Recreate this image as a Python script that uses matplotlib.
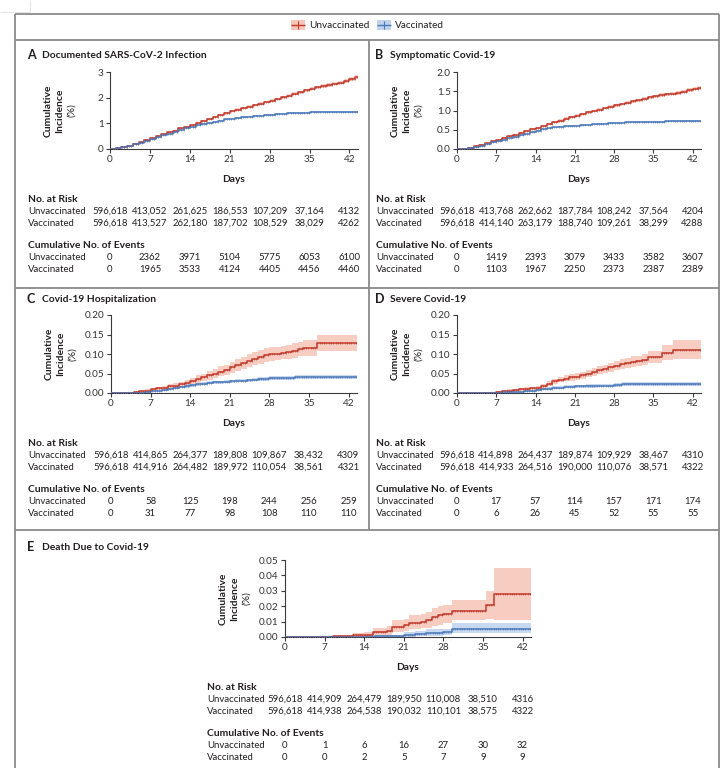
import numpy as np
import matplotlib
matplotlib.use('Agg')
import matplotlib.pyplot as plt
from matplotlib.lines import Line2D
from matplotlib.patches import Rectangle
from matplotlib.transforms import blended_transform_factory

plt.rcParams['font.family'] = ['Lato', 'DejaVu Sans']

# ---------------- data ----------------
tick_days = [0, 7, 14, 21, 28, 35, 42]
days = list(range(0, 44))

# Panel A: Documented SARS-CoV-2 infection (cumulative incidence, %)
A_unvax = [0, 0.02, 0.06, 0.13, 0.20, 0.27, 0.35, 0.43, 0.50, 0.58, 0.65, 0.72, 0.80, 0.87,
           0.95, 1.02, 1.10, 1.17, 1.25, 1.33, 1.40, 1.47, 1.53, 1.59, 1.65, 1.71, 1.77, 1.83,
           1.88, 1.95, 2.02, 2.08, 2.15, 2.21, 2.28, 2.34, 2.40, 2.46, 2.50, 2.55, 2.59, 2.66,
           2.73, 2.80]
A_vax = [0, 0.02, 0.06, 0.12, 0.18, 0.25, 0.32, 0.39, 0.46, 0.53, 0.60, 0.67, 0.73, 0.80,
         0.86, 0.92, 0.97, 1.02, 1.07, 1.11, 1.15, 1.18, 1.21, 1.24, 1.26, 1.28, 1.30, 1.32,
         1.34, 1.36, 1.38, 1.39, 1.40, 1.41, 1.42, 1.43, 1.44, 1.44, 1.44, 1.44, 1.45, 1.45,
         1.45, 1.45]
A_unvax_hw = [0, .01, .01, .015, .02, .02, .025, .025, .03, .03, .03, .035, .035, .035,
              .04, .04, .04, .04, .045, .045, .045, .045, .05, .05, .05, .05, .05, .055,
              .055, .055, .055, .06, .06, .06, .06, .06, .065, .065, .065, .065, .07, .07,
              .075, .08]
A_vax_hw = [0, .01, .01, .01, .015, .015, .02, .02, .02, .02, .025, .025, .025, .025,
            .03, .03, .03, .03, .03, .03, .03, .03, .03, .03, .03, .03, .03, .03,
            .035, .035, .035, .035, .035, .035, .035, .035, .035, .035, .035, .035, .035, .035,
            .035, .035]
A_risk_unvax = [596618, 413052, 261625, 186553, 107209, 37164, 4132]
A_risk_vax = [596618, 413527, 262180, 187702, 108529, 38029, 4262]
A_ev_unvax = [0, 2362, 3971, 5104, 5775, 6053, 6100]
A_ev_vax = [0, 1965, 3533, 4124, 4405, 4456, 4460]

# Panel B: Symptomatic Covid-19
B_unvax = [0, 0.01, 0.03, 0.07, 0.11, 0.15, 0.20, 0.24, 0.28, 0.33, 0.37, 0.42, 0.46, 0.51,
           0.55, 0.60, 0.65, 0.70, 0.74, 0.79, 0.83, 0.87, 0.91, 0.95, 0.99, 1.02, 1.06, 1.10,
           1.13, 1.17, 1.20, 1.24, 1.27, 1.31, 1.34, 1.37, 1.40, 1.42, 1.44, 1.46, 1.49, 1.53,
           1.57, 1.58]
B_vax = [0, 0.01, 0.03, 0.06, 0.09, 0.13, 0.17, 0.20, 0.24, 0.28, 0.32, 0.36, 0.40, 0.44,
         0.48, 0.51, 0.54, 0.56, 0.58, 0.59, 0.60, 0.61, 0.62, 0.63, 0.64, 0.65, 0.66, 0.67,
         0.68, 0.685, 0.69, 0.695, 0.70, 0.70, 0.705, 0.71, 0.71, 0.715, 0.72, 0.72, 0.72, 0.72,
         0.72, 0.72]
B_unvax_hw = [0, .005, .008, .01, .012, .014, .016, .018, .02, .02, .022, .022, .024, .024,
              .026, .026, .028, .028, .03, .03, .03, .032, .032, .032, .034, .034, .034, .036,
              .036, .036, .038, .038, .04, .04, .04, .042, .042, .044, .044, .046, .046, .048,
              .05, .052]
B_vax_hw = [0, .005, .006, .008, .01, .01, .012, .012, .014, .014, .015, .015, .016, .016,
            .017, .017, .018, .018, .018, .018, .019, .019, .019, .019, .02, .02, .02, .02,
            .02, .02, .021, .021, .021, .021, .021, .022, .022, .022, .022, .022, .022, .022,
            .022, .022]
B_risk_unvax = [596618, 413768, 262662, 187784, 108242, 37564, 4204]
B_risk_vax = [596618, 414140, 263179, 188740, 109261, 38299, 4288]
B_ev_unvax = [0, 1419, 2393, 3079, 3433, 3582, 3607]
B_ev_vax = [0, 1103, 1967, 2250, 2373, 2387, 2389]

# Panel C: Covid-19 hospitalization (step change points)
C_unvax_t = [0, 4, 5, 6, 7, 8, 9, 10, 11, 12, 13, 14, 15, 16, 17, 18, 19, 20, 21, 22, 23, 24,
             25, 26, 27, 28, 29, 30, 31, 32, 33, 34, 35, 36.5]
C_unvax = [0, .002, .004, .006, .009, .012, .014, .017, .019, .022, .026, .030, .035, .040,
           .045, .050, .055, .060, .066, .072, .077, .082, .087, .092, .097, .100, .101, .103,
           .106, .108, .113, .115, .115, .127]
C_unvax_lo = [0, .001, .002, .003, .006, .008, .009, .011, .013, .015, .018, .022, .026, .030,
              .034, .038, .043, .047, .052, .057, .062, .066, .071, .075, .080, .083, .084,
              .086, .088, .090, .094, .096, .096, .107]
C_unvax_hi = [0, .004, .006, .009, .013, .016, .019, .023, .026, .029, .034, .039, .045, .050,
              .056, .062, .068, .073, .080, .087, .093, .099, .104, .110, .115, .118, .119,
              .121, .124, .127, .132, .135, .135, .148]
C_vax_t = [0, 4, 6, 7, 8, 9, 10, 11, 12, 13, 14, 15, 16, 17, 18, 19, 20, 21, 22, 23, 24, 25,
           26, 27, 28, 32.5]
C_vax = [0, .001, .002, .004, .006, .008, .010, .012, .015, .018, .020, .022, .024, .026,
         .027, .028, .029, .030, .031, .032, .033, .034, .035, .036, .038, .041]
C_vax_lo = [0, .0005, .001, .002, .004, .006, .007, .009, .012, .014, .016, .018, .020, .022,
            .023, .024, .025, .026, .027, .028, .029, .030, .030, .031, .033, .035]
C_vax_hi = [0, .002, .003, .006, .008, .010, .013, .015, .018, .022, .024, .026, .028, .030,
            .031, .032, .033, .034, .035, .036, .037, .038, .040, .041, .043, .047]
C_risk_unvax = [596618, 414865, 264377, 189808, 109867, 38432, 4309]
C_risk_vax = [596618, 414916, 264482, 189972, 110054, 38561, 4321]
C_ev_unvax = [0, 58, 125, 198, 244, 256, 259]
C_ev_vax = [0, 31, 77, 98, 108, 110, 110]

# Panel D: Severe Covid-19
D_unvax_t = [0, 5, 7, 8, 9, 10, 11, 12, 13, 14, 15, 16, 17, 18, 19, 20, 21, 22, 23, 24, 25,
             26, 27, 28, 29, 30, 31, 32, 33, 34, 36.5, 38.5]
D_unvax = [0, .001, .002, .004, .006, .008, .010, .011, .012, .013, .018, .024, .030, .034,
           .037, .040, .042, .046, .050, .054, .058, .062, .066, .070, .074, .078, .080, .082,
           .085, .093, .103, .110]
D_unvax_lo = [0, 0, .001, .002, .003, .005, .006, .007, .008, .009, .013, .018, .023, .027,
              .030, .032, .034, .037, .041, .044, .048, .051, .055, .058, .062, .065, .067,
              .069, .071, .078, .085, .088]
D_unvax_hi = [0, .002, .004, .006, .009, .011, .014, .015, .016, .018, .024, .030, .037, .042,
              .045, .048, .051, .055, .060, .064, .068, .073, .077, .082, .087, .091, .094,
              .096, .099, .108, .122, .135]
D_vax_t = [0, 6, 8, 10, 12, 14, 15, 16, 17, 18, 19, 21, 23, 25, 28, 29.5]
D_vax = [0, .001, .002, .003, .005, .007, .010, .011, .013, .014, .016, .017, .018, .019,
         .021, .024]
D_vax_lo = [0, 0, .001, .001, .003, .004, .007, .008, .009, .010, .012, .013, .014, .015,
            .016, .019]
D_vax_hi = [0, .002, .004, .005, .008, .010, .013, .015, .017, .018, .020, .021, .023, .024,
            .026, .029]
D_risk_unvax = [596618, 414898, 264437, 189874, 109929, 38467, 4310]
D_risk_vax = [596618, 414933, 264516, 190000, 110076, 38571, 4322]
D_ev_unvax = [0, 17, 57, 114, 157, 171, 174]
D_ev_vax = [0, 6, 26, 45, 52, 55, 55]

# Panel E: Death due to Covid-19
E_unvax_t = [0, 8.5, 12, 14, 15.5, 18, 19, 21, 22, 24, 25, 26, 27, 28, 29.5, 35.5, 37]
E_unvax = [0, .0005, .001, .0015, .003, .004, .0065, .0075, .009, .010, .011, .013, .014,
           .015, .017, .021, .028]
E_unvax_lo = [0, 0, 0, .0003, .001, .0015, .003, .004, .005, .006, .006, .007, .008, .009,
              .011, .012, .011]
E_unvax_hi = [0, .0015, .0025, .003, .006, .007, .011, .012, .014, .015, .016, .019, .020,
              .021, .024, .030, .045]
E_vax_t = [0, 14, 16, 21, 23, 25, 28, 29.5]
E_vax = [0, .0003, .0005, .001, .002, .0025, .0035, .0055]
E_vax_lo = [0, 0, 0, .0002, .0005, .0008, .0013, .0025]
E_vax_hi = [0, .001, .0015, .003, .004, .005, .0055, .009]
E_risk_unvax = [596618, 414909, 264479, 189950, 110008, 38510, 4316]
E_risk_vax = [596618, 414938, 264538, 190032, 110101, 38575, 4322]
E_ev_unvax = [0, 1, 6, 16, 27, 30, 32]
E_ev_vax = [0, 0, 2, 5, 7, 9, 9]

# ---------------- styling ----------------
W, H, DPI = 722, 768, 100
RED = '#C1392B'
RED_BAND = '#F4B8A9'
BLUE = '#4A78B8'
BLUE_BAND = '#B0C8EA'
TXT = '#231F20'
FRAME = '#8A8A8A'
XMAX = 43.5

fig = plt.figure(figsize=(W / DPI, H / DPI), dpi=DPI)


def fx(x):
    return x / W


def fy(y):
    return 1 - y / H


def fline(xs, ys, color=FRAME, lw=1.3):
    fig.add_artist(Line2D([fx(x) for x in xs], [fy(y) for y in ys],
                          transform=fig.transFigure, color=color, lw=lw,
                          solid_capstyle='butt'))


# frame
fline([15, 15], [14, 780])
fline([719, 719], [14, 780])
fline([15, 719], [14, 14])
fline([15, 719], [40, 40])
fline([15, 719], [288, 288])
fline([15, 719], [530, 530])
fline([369, 369], [40, 530])
# faint page artifact top-left
fline([0, 30], [12, 12], color='#E4E4E4', lw=0.8)
fline([30, 30], [0, 12], color='#E4E4E4', lw=0.8)


# legend
def legend_item(x, label, color, band):
    fig.add_artist(Rectangle((fx(x), fy(30)), 14 / W, 10 / H, transform=fig.transFigure,
                             facecolor=band, edgecolor='none', alpha=0.8))
    fline([x, x + 14], [25, 25], color=color, lw=1.0)
    fline([x + 7, x + 7], [21, 29], color=color, lw=0.8)
    fig.text(fx(x + 18), fy(25), label, fontsize=7.2, color=TXT, va='center', ha='left')


legend_item(291, 'Unvaccinated', RED, RED_BAND)
legend_item(377, 'Vaccinated', BLUE, BLUE_BAND)


def fmt(v):
    return f'{v:,}' if v >= 10000 else str(v)


def step_series(t, v):
    t = list(t) + [XMAX]
    v = list(v) + [v[-1]]
    return np.array(t, float), np.array(v, float)


def draw_curve(ax, t, v, lo, hi, color, band):
    tt, vv = step_series(t, v)
    _, ll = step_series(t, lo)
    _, hh = step_series(t, hi)
    ax.fill_between(tt, ll, hh, step='post', color=band, alpha=0.7, lw=0, zorder=1)
    ax.plot(tt, vv, drawstyle='steps-post', color=color, lw=1.1, zorder=3)
    # censoring tick marks along the curve
    mx = np.arange(0.5, XMAX, 0.4)
    idx = np.searchsorted(tt, mx, side='right') - 1
    ax.plot(mx, vv[idx], ls='none', marker='|', ms=2.0, mew=0.45, color=color, zorder=4)


def make_panel(left, top, width, height, ymax, yticks, ylabels, letter, title,
               title_x, label_x, series, risk_u, risk_v, ev_u, ev_v, title_y):
    ax = fig.add_axes([fx(left), fy(top + height), width / W, height / H])
    for s in series:
        draw_curve(ax, *s)
    ax.set_xlim(0, XMAX)
    ax.set_ylim(0, ymax)
    ax.set_xticks(tick_days)
    ax.set_yticks(yticks)
    ax.set_yticklabels(ylabels)
    for sp in ('top', 'right'):
        ax.spines[sp].set_visible(False)
    for sp in ('left', 'bottom'):
        ax.spines[sp].set_color('#3A3A3A')
        ax.spines[sp].set_linewidth(0.8)
    ax.tick_params(direction='out', length=3, width=0.8, color='#3A3A3A',
                   labelsize=7.2, labelcolor='#333333', pad=1.5)
    ax.patch.set_alpha(0)
    bottom = top + height
    # title
    fig.text(fx(title_x), fy(title_y), letter, fontsize=9, fontweight='bold', color=TXT,
             va='center', ha='left')
    fig.text(fx(title_x + 15), fy(title_y), title, fontsize=7.4, fontweight='bold',
             color=TXT, va='center', ha='left')
    # y label
    cy = top + height / 2
    fig.text(fx(left - 62), fy(cy), 'Cumulative', rotation=90, fontsize=7.4,
             fontweight='bold', color=TXT, ha='center', va='center')
    fig.text(fx(left - 50), fy(cy), 'Incidence', rotation=90, fontsize=7.4,
             fontweight='bold', color=TXT, ha='center', va='center')
    fig.text(fx(left - 38), fy(cy), '(%)', rotation=90, fontsize=7.4,
             color=TXT, ha='center', va='center')
    # x label
    fig.text(fx(left + width / 2), fy(bottom + 30), 'Days', fontsize=7.4,
             fontweight='bold', color=TXT, ha='center', va='center')
    # tables
    tr = blended_transform_factory(ax.transData, fig.transFigure)
    rows = [(50, 'No. at Risk', None), (62, 'Unvaccinated', risk_u), (74, 'Vaccinated', risk_v),
            (97, 'Cumulative No. of Events', None), (109, 'Unvaccinated', ev_u),
            (121, 'Vaccinated', ev_v)]
    for off, lab, vals in rows:
        y = fy(bottom + off)
        if vals is None:
            fig.text(fx(label_x), y, lab, fontsize=7.4, fontweight='bold', color=TXT,
                     ha='left', va='center')
        else:
            fig.text(fx(label_x), y, lab, fontsize=6.9, color=TXT, ha='left', va='center')
            for d, val in zip(tick_days, vals):
                ax.text(d, y, fmt(val), transform=tr, fontsize=6.9, color=TXT,
                        ha='center', va='center')
    return ax


PW = 248

make_panel(110, 72, PW, 77, 3, [0, 1, 2, 3], ['0', '1', '2', '3'],
           'A', 'Documented SARS-CoV-2 Infection', 27, 28,
           [(days, A_unvax, np.subtract(A_unvax, A_unvax_hw), np.add(A_unvax, A_unvax_hw), RED, RED_BAND),
            (days, A_vax, np.subtract(A_vax, A_vax_hw), np.add(A_vax, A_vax_hw), BLUE, BLUE_BAND)],
           A_risk_unvax, A_risk_vax, A_ev_unvax, A_ev_vax, 55)

make_panel(457, 72, PW - 4, 77, 2.0, [0, 0.5, 1.0, 1.5, 2.0], ['0.0', '0.5', '1.0', '1.5', '2.0'],
           'B', 'Symptomatic Covid-19', 375, 376,
           [(days, B_unvax, np.subtract(B_unvax, B_unvax_hw), np.add(B_unvax, B_unvax_hw), RED, RED_BAND),
            (days, B_vax, np.subtract(B_vax, B_vax_hw), np.add(B_vax, B_vax_hw), BLUE, BLUE_BAND)],
           B_risk_unvax, B_risk_vax, B_ev_unvax, B_ev_vax, 55)

c_ticks = [0, 0.05, 0.10, 0.15, 0.20]
c_labels = ['0.00', '0.05', '0.10', '0.15', '0.20']
make_panel(111, 315, PW - 2, 78, 0.20, c_ticks, c_labels,
           'C', 'Covid-19 Hospitalization', 27, 28,
           [(C_unvax_t, C_unvax, C_unvax_lo, C_unvax_hi, RED, RED_BAND),
            (C_vax_t, C_vax, C_vax_lo, C_vax_hi, BLUE, BLUE_BAND)],
           C_risk_unvax, C_risk_vax, C_ev_unvax, C_ev_vax, 299)

make_panel(457, 315, PW - 4, 78, 0.20, c_ticks, c_labels,
           'D', 'Severe Covid-19', 375, 376,
           [(D_unvax_t, D_unvax, D_unvax_lo, D_unvax_hi, RED, RED_BAND),
            (D_vax_t, D_vax, D_vax_lo, D_vax_hi, BLUE, BLUE_BAND)],
           D_risk_unvax, D_risk_vax, D_ev_unvax, D_ev_vax, 299)

make_panel(285, 560, PW - 2, 77, 0.05, [0, 0.01, 0.02, 0.03, 0.04, 0.05],
           ['0.00', '0.01', '0.02', '0.03', '0.04', '0.05'],
           'E', 'Death Due to Covid-19', 27, 207,
           [(E_unvax_t, E_unvax, E_unvax_lo, E_unvax_hi, RED, RED_BAND),
            (E_vax_t, E_vax, E_vax_lo, E_vax_hi, BLUE, BLUE_BAND)],
           E_risk_unvax, E_risk_vax, E_ev_unvax, E_ev_vax, 547)

fig.savefig('out.png', dpi=DPI)
